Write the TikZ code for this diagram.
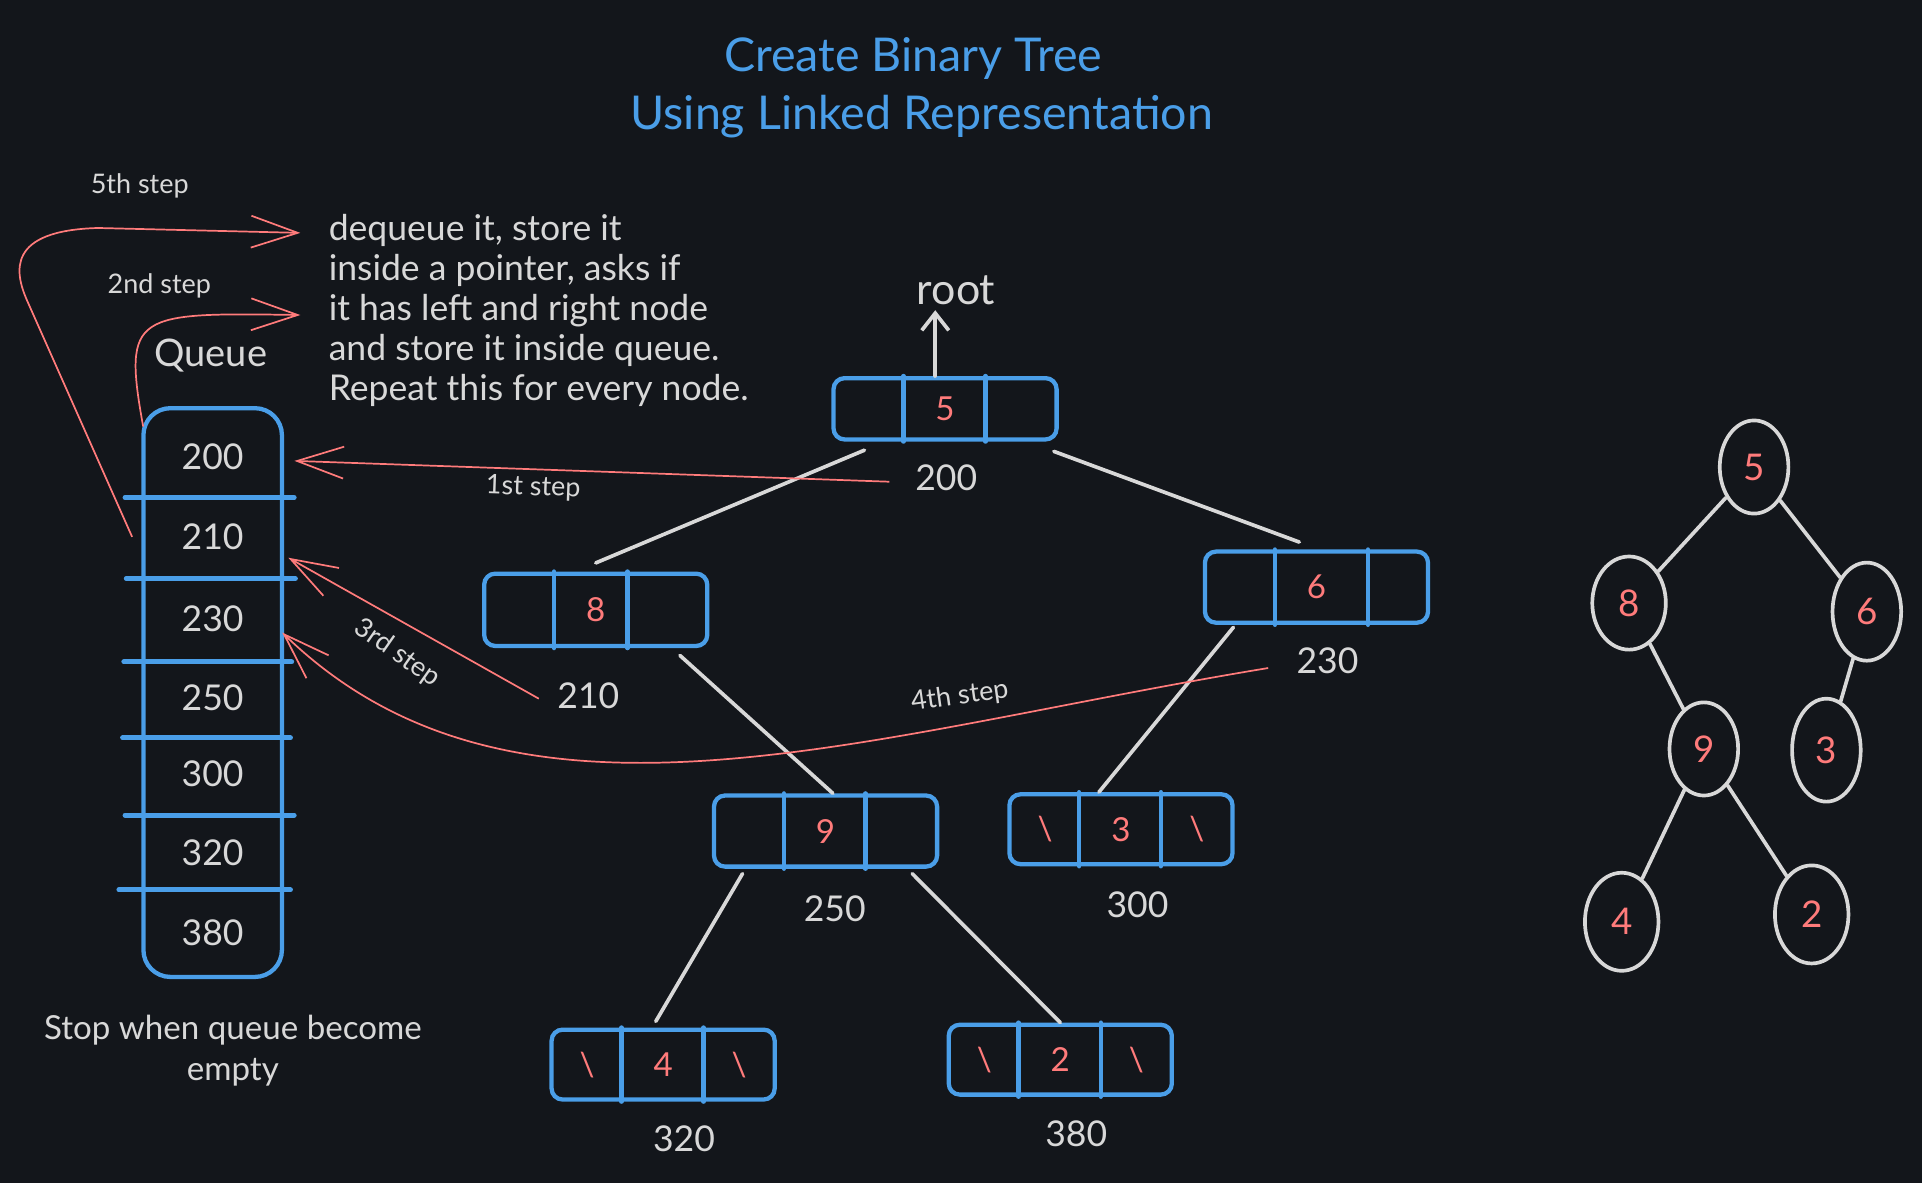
\documentclass[tikz,border=0pt]{standalone}
\usepackage{fontspec}
\setmainfont{Lato}
\usetikzlibrary{arrows.meta,shapes.geometric}

\definecolor{bgdark}{HTML}{13161B}
\definecolor{sketchblue}{HTML}{4A9EE8}
\definecolor{sketchred}{HTML}{FF7B7B}
\definecolor{sketchgray}{HTML}{D8D8D8}

\tikzset{
  boxline/.style={draw=sketchblue, line width=3.5pt, line cap=round},
  listbox/.style={boxline, rounded corners=9pt, minimum width=182pt, inner sep=0pt},
  valtext/.style={text=sketchred, inner sep=0pt, font=\fontsize{27}{30}\selectfont},
  addr/.style={text=sketchgray, inner sep=0pt, font=\fontsize{29}{30}\selectfont},
  edge/.style={draw=sketchgray, line width=3pt, line cap=round},
  steparrow/.style={draw=sketchred, line width=1.4pt, -{Straight Barb[length=38pt,width=26pt]}},
  steplabel/.style={text=sketchgray, inner sep=0pt, font=\fontsize{22}{24}\selectfont},
  treenode/.style={ellipse, draw=sketchgray, line width=3pt, inner sep=0pt, text=sketchred, font=\fontsize{30}{32}\selectfont},
}

\begin{document}
\begin{tikzpicture}[x=1pt,y=-1pt]
  \fill[bgdark] (0,0) rectangle (1568,965);
  \useasboundingbox (0,0) rectangle (1568,965);

  \node[text=sketchblue, font=\fontsize{38}{40}\selectfont] (title) at (745,48) {Create Binary Tree};
  \node[text=sketchblue, font=\fontsize{38}{40}\selectfont] (subtitle) at (752,95) {Using Linked Representation};

  \node[text=sketchgray, anchor=north west, align=left, inner sep=0pt, font=\fontsize{29}{32.5}\selectfont] (desc) at (268,175)
    {dequeue it, store it\\inside a pointer, asks if\\it has left and right node\\and store it inside queue.\\Repeat this for every node.};
  \coordinate (tip5) at (245,190);
  \coordinate (tip2) at (245,257);

  % queue
  \node[text=sketchgray, font=\fontsize{31}{32}\selectfont] (qtitle) at (172,290) {Queue};
  \node[boxline, rounded corners=22pt, minimum width=113pt, minimum height=464pt, inner sep=0pt] (queue) at (173.5,565) {};
  \foreach \y/\a/\b in {406/102/240, 472/103/241, 540/101/238, 602/100/237, 665/102/240, 726/97/237}
    \draw[boxline, line width=4pt] (\a,\y) -- (\b,\y);
  \foreach \v/\y in {200/373, 210/438, 230/505, 250/569, 300/631, 320/696, 380/761}
    \node[addr, minimum width=113pt] (q\v) at (173.5,\y) {\v};
  \node[text=sketchgray, align=center, inner sep=0pt, font=\fontsize{27}{34}\selectfont] (stopnote) at (190,857) {Stop when queue become\\empty};

  % linked nodes
  \foreach \nm/\x/\y/\h/\r/\v in {n5/771/333.5/50/33/5, n8/486/497.5/59/26/8, n6/1074/479/58/42/6,
      n9/673.5/678/58/32.5/9, n3/914.5/676.5/57/32.5/3, n4/541/868.5/57/33/4, n2/865/864.5/57/33/2} {
    \node[listbox, minimum height=\h pt] (\nm) at (\x,\y) {};
    \draw[boxline] ([xshift=-34pt]\nm.north) -- ([xshift=-34pt]\nm.south);
    \draw[boxline] ([xshift=\r pt]\nm.north) -- ([xshift=\r pt]\nm.south);
    \node[valtext] at (\nm.center) {\v};
  }
  \foreach \nm in {n3,n4,n2} {
    \node[valtext] at ([xshift=-62pt]\nm.center) {\textbackslash};
    \node[valtext] at ([xshift=62pt]\nm.center) {\textbackslash};
  }

  \node[addr] (l200) at (772,390) {200};
  \node[addr] (l210) at (480,568) {210};
  \node[addr] (l230) at (1083,539) {230};
  \node[addr] (l250) at (681,741) {250};
  \node[addr] (l300) at (928,738) {300};
  \node[addr] (l320) at (558,929) {320};
  \node[addr] (l380) at (878,925) {380};

  \node[text=sketchgray, inner sep=0pt, font=\fontsize{35}{36}\selectfont] (rootlbl) at (780,237) {root};
  \draw[edge, -{Straight Barb[length=14pt,width=22pt]}] ([xshift=-8pt]n5.north) -- ([xshift=-17pt,yshift=-4pt]rootlbl.south);

  \draw[edge] ([xshift=27pt,yshift=-7pt]n5.south west) -- ([yshift=7pt]n8.north);
  \draw[edge] ([xshift=-4pt,yshift=-8pt]n5.south east) -- ([xshift=-14pt,yshift=6pt]n6.north);
  \draw[edge] ([xshift=-24pt,yshift=-6pt]n8.south east) -- ([xshift=6pt]n9.north);
  \draw[edge] ([xshift=25pt,yshift=-2pt]n6.south west) -- ([xshift=-18pt]n3.north);
  \draw[edge] ([xshift=25pt,yshift=-4pt]n9.south west) -- ([xshift=-6pt,yshift=5pt]n4.north);
  \draw[edge] ([xshift=-22pt,yshift=-4pt]n9.south east) -- (n2.north);

  % steps
  \draw[steparrow] ([xshift=-21pt,yshift=-3pt]l200.west) -- ([xshift=10pt,yshift=-3pt]q200.east);
  \draw[steparrow] ([yshift=25pt]q200.west) .. controls (100,255) and (110,255) .. (tip2);
  \draw[steparrow] ([xshift=-15pt,yshift=-2pt]l210.west) -- ([xshift=5pt,yshift=-17pt]q210.east);
  \draw[steparrow] ([xshift=-23pt,yshift=-6pt]l230.west) .. controls (700,600) and (420,700) .. ([yshift=-11pt]q230.east);
  \draw[steparrow] ([xshift=-9pt]q210.west) -- (22,245) .. controls (12,222) and (5,188) .. (80,186) -- (tip5);

  \node[steplabel] (s5) at (114,152) {5th step};
  \node[steplabel] (s2) at (130,233) {2nd step};
  \node[steplabel, rotate=-2] (s1) at (435,398) {1st step};
  \node[steplabel, rotate=-35] (s3) at (324,533) {3rd step};
  \node[steplabel, rotate=8] (s4) at (783,568) {4th step};

  % tree
  \node[treenode, minimum width=56pt, minimum height=76pt] (c5) at (1431,381) {5};
  \node[treenode, minimum width=60pt, minimum height=76pt] (c8) at (1329,492) {8};
  \node[treenode, minimum width=56pt, minimum height=80pt] (c6) at (1523,499) {6};
  \node[treenode, minimum width=56pt, minimum height=76pt] (c9) at (1390,611) {9};
  \node[treenode, minimum width=56pt, minimum height=84pt] (c3) at (1490,612) {3};
  \node[treenode, minimum width=60pt, minimum height=80pt] (c4) at (1323,752) {4};
  \node[treenode, minimum width=60pt, minimum height=80pt] (c2) at (1478,746) {2};
  \draw[edge] (c5) -- (c8);
  \draw[edge] (c5) -- (c6);
  \draw[edge] (c8) -- (c9);
  \draw[edge] (c6) -- (c3);
  \draw[edge] (c9) -- (c4);
  \draw[edge] (c9) -- (c2);
\end{tikzpicture}
\end{document}
